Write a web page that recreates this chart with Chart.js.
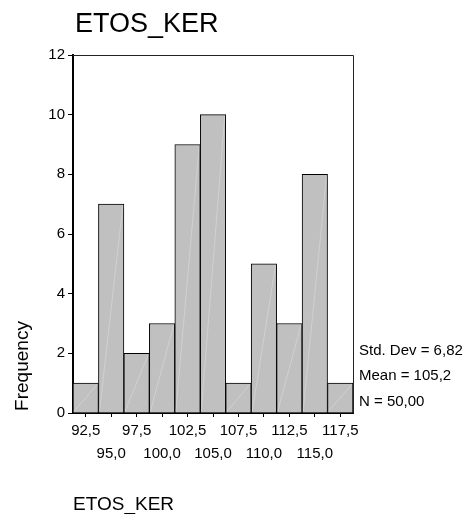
<!DOCTYPE html>
<html>
<head>
<meta charset="utf-8">
<script src="https://cdn.jsdelivr.net/npm/chart.js@4.4.1/dist/chart.umd.min.js"></script>
<style>
  html, body { margin: 0; padding: 0; background: #fff; }
  canvas { display: block; }
</style>
</head>
<body>
<canvas id="histChart" width="469" height="514"></canvas>
<script>
const binLabels = ["92,5", "95,0", "97,5", "100,0", "102,5", "105,0", "107,5", "110,0", "112,5", "115,0", "117,5"];
const frequencies = [1, 7, 2, 3, 9, 10, 1, 5, 3, 8, 1];
const yMax = 12;
const yStep = 2;
const chartTitle = "ETOS_KER";
const yTitle = "Frequency";
const xTitle = "ETOS_KER";
const statsLines = ["Std. Dev = 6,82", "Mean = 105,2", "N = 50,00"];

const FONT = "'Liberation Sans', Arial, sans-serif";

// faint diagonal streak inside each bar, like the SPSS export
const barStreaks = {
  id: "barStreaks",
  afterDatasetsDraw(chart) {
    const { ctx } = chart;
    ctx.save();
    ctx.strokeStyle = "rgba(255,255,255,0.25)";
    ctx.lineWidth = 1;
    chart.getDatasetMeta(0).data.forEach(bar => {
      const half = bar.width / 2 - 1;
      ctx.beginPath();
      ctx.moveTo(bar.x - half, bar.base - 1);
      ctx.lineTo(bar.x + half, bar.y + 1);
      ctx.stroke();
    });
    ctx.restore();
  }
};

// SPSS-style extras: frame, titles and the stats block on the right
const spssDecor = {
  id: "spssDecor",
  afterDraw(chart) {
    const { ctx, chartArea: a } = chart;
    ctx.save();
    ctx.strokeStyle = "#222";
    ctx.lineWidth = 1;
    ctx.beginPath();
    ctx.moveTo(a.left, a.top + 0.5);
    ctx.lineTo(a.right + 0.5, a.top + 0.5);
    ctx.lineTo(a.right + 0.5, a.bottom);
    ctx.stroke();

    ctx.fillStyle = "#000";
    ctx.textBaseline = "alphabetic";
    ctx.textAlign = "left";
    ctx.font = "27px " + FONT;
    ctx.fillText(chartTitle, a.left + 2, 32);

    ctx.font = "19px " + FONT;
    ctx.fillText(xTitle, a.left, 510);

    ctx.font = "15px " + FONT;
    const sx = a.right + 6;
    [355, 380, 406].forEach((y, i) => ctx.fillText(statsLines[i], sx, y));

    ctx.translate(28, 366);
    ctx.rotate(-Math.PI / 2);
    ctx.textAlign = "center";
    ctx.font = "19px " + FONT;
    ctx.fillText(yTitle, 0, 0);
    ctx.restore();
  }
};

new Chart(document.getElementById("histChart"), {
  type: "bar",
  data: {
    labels: binLabels,
    datasets: [{
      data: frequencies,
      backgroundColor: "#c0c0c0",
      borderColor: "#000",
      borderWidth: 1,
      barPercentage: 1,
      categoryPercentage: 1
    }]
  },
  options: {
    responsive: false,
    animation: false,
    layout: { padding: { left: 0, top: 55, right: 116, bottom: 0 } },
    plugins: {
      legend: { display: false },
      tooltip: { enabled: false }
    },
    scales: {
      x: {
        afterFit: s => { s.height = 101; },
        grid: { display: true, drawOnChartArea: false, offset: false, tickLength: 4, color: "#000" },
        border: { color: "#000", width: 2 },
        ticks: {
          color: "#000",
          padding: 2,
          maxRotation: 0,
          autoSkip: false,
          font: { family: FONT, size: 15, lineHeight: 1.53 },
          callback: function (v, i) {
            const t = binLabels[i];
            return i % 2 === 0 ? [t] : ["", t];
          }
        }
      },
      y: {
        min: 0,
        max: yMax,
        afterFit: s => { s.width = 73; },
        grid: { display: true, drawOnChartArea: false, tickLength: 5, color: "#000" },
        border: { color: "#000", width: 2 },
        ticks: {
          stepSize: yStep,
          color: "#000",
          padding: 3,
          font: { family: FONT, size: 15 }
        }
      }
    }
  },
  plugins: [barStreaks, spssDecor]
});
</script>
</body>
</html>
